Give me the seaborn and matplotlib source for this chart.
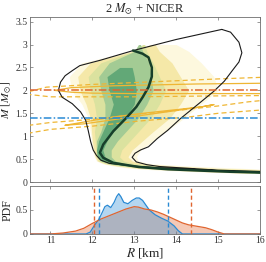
import numpy as np
import matplotlib
matplotlib.use("Agg")
import matplotlib.pyplot as plt
import seaborn as sns

# ---------------- data ----------------
# outer envelope of the M-R posterior (closed black curve)
env_R = [15.09, 14.0, 12.98, 12.2, 11.7, 11.52, 11.35, 11.24, 11.19, 11.28, 11.52, 11.72,
         11.84, 11.9, 11.96, 12.02, 12.1, 12.2, 12.4, 12.97, 13.6, 14.57, 15.3, 16.0, 16.5,
         16.5, 16.0, 15.0, 14.3, 13.6, 13.3, 13.05, 12.95, 13.02, 13.15, 13.34, 13.55, 13.8,
         14.11, 14.5, 14.9, 15.15, 15.34, 15.5, 15.57, 15.5, 15.3, 15.09]
env_M = [3.33, 3.11, 2.87, 2.66, 2.54, 2.43, 2.32, 2.18, 2.0, 1.85, 1.71, 1.53,
         1.35, 1.13, 0.88, 0.7, 0.58, 0.48, 0.41, 0.35, 0.31, 0.27, 0.235, 0.205, 0.19,
         0.22, 0.232, 0.26, 0.3, 0.34, 0.38, 0.44, 0.54, 0.63, 0.7, 0.77, 0.95, 1.13,
         1.39, 1.68, 1.98, 2.2, 2.43, 2.62, 2.82, 3.05, 3.27, 3.33]

# median M-R curve (thick dark green)
med_R = [12.97, 13.2, 13.34, 13.42, 13.42, 13.34, 13.2, 13.05, 12.8, 12.5, 12.26, 12.18,
         12.26, 12.5, 13.1, 13.8, 14.6, 15.3, 16.5]
med_M = [2.87, 2.8, 2.72, 2.5, 2.3, 2.07, 1.85, 1.64, 1.39, 1.11, 0.82, 0.64,
         0.53, 0.42, 0.33, 0.28, 0.25, 0.225, 0.2]

# density bands (left / right radius at each mass level), outer -> inner
band_M = [0.19, 0.22, 0.26, 0.30, 0.35, 0.40, 0.46, 0.55, 0.70, 0.90, 1.10, 1.40, 1.70, 2.00, 2.30, 2.60, 2.85, 3.00]
band1_L = [15.6, 14.6, 13.6, 12.9, 12.5, 12.25, 12.1, 12.05, 12.0, 11.98, 11.95, 11.9, 11.75, 11.5, 11.45, 11.75, 12.9, 13.5]
band1_R = [16.5, 16.5, 16.5, 15.6, 14.3, 13.4, 13.1, 13.05, 13.15, 13.45, 13.75, 14.2, 14.6, 15.0, 14.9, 14.6, 14.3, 14.0]
band2_L = [15.8, 14.9, 13.9, 13.1, 12.6, 12.3, 12.12, 12.07, 12.03, 12.0, 11.98, 11.95, 11.85, 11.7, 11.65, 11.95, 12.95, 13.4]
band2_R = [16.5, 16.5, 16.5, 15.0, 13.9, 13.2, 12.95, 12.85, 12.95, 13.2, 13.45, 13.85, 14.1, 14.3, 14.1, 13.9, 13.6, 13.5]
band3_L = [15.9, 15.2, 14.1, 13.3, 12.7, 12.35, 12.15, 12.1, 12.08, 12.07, 12.05, 12.1, 12.05, 11.95, 11.9, 12.2, 12.97, 13.2]
band3_R = [16.5, 16.5, 16.0, 14.5, 13.6, 13.0, 12.75, 12.65, 12.7, 12.9, 13.1, 13.4, 13.6, 13.75, 13.6, 13.45, 13.3, 13.25]
band4_L = [16.0, 15.4, 14.3, 13.4, 12.8, 12.4, 12.2, 12.12, 12.1, 12.1, 12.2, 12.3, 12.3, 12.2, 12.15, 12.4, 13.0, 13.1]
band4_R = [16.5, 16.5, 15.5, 14.2, 13.3, 12.8, 12.55, 12.45, 12.45, 12.6, 12.8, 13.1, 13.3, 13.45, 13.4, 13.35, 13.2, 13.15]
core_M = [0.19, 0.22, 0.26, 0.30, 0.35, 0.40, 0.46, 0.55, 0.70, 0.90, 1.10, 1.40, 1.70, 2.00, 2.30, 2.50]
core_L = [16.2, 15.7, 14.6, 13.6, 12.9, 12.45, 12.22, 12.12, 12.1, 12.15, 12.25, 12.4, 12.5, 12.4, 12.35, 12.65]
core_R = [16.5, 16.5, 15.4, 14.2, 13.2, 12.7, 12.42, 12.3, 12.25, 12.35, 12.5, 12.8, 13.0, 13.05, 13.0, 12.95]

# NICER contours (solid = inner, dashed = outer)
j0740_in_R = [11.1, 11.5, 12.5, 13.5, 14.5, 15.5, 16.5, 16.5, 15.0, 14.0, 13.0, 12.0, 11.5, 11.1]
j0740_in_M = [2.0, 2.06, 2.1, 2.12, 2.14, 2.15, 2.16, 1.93, 1.93, 1.93, 1.93, 1.94, 1.96, 2.0]
j0740_out_R = [10.3, 10.9, 12.0, 13.0, 14.0, 15.0, 16.5, 16.5, 15.0, 14.0, 13.0, 12.0, 11.0, 10.3]
j0740_out_M = [1.93, 2.07, 2.13, 2.17, 2.21, 2.25, 2.3, 1.89, 1.88, 1.87, 1.86, 1.86, 1.86, 1.93]
j0030_in_R = [11.35, 11.8, 12.5, 13.2, 14.0, 14.6, 14.9, 14.6, 14.0, 13.3, 12.5, 11.8, 11.35]
j0030_in_M = [1.24, 1.31, 1.42, 1.5, 1.58, 1.64, 1.69, 1.64, 1.56, 1.47, 1.36, 1.27, 1.24]
j0030_out_R = [10.3, 10.5, 11.0, 12.18, 13.0, 14.0, 15.0, 15.72, 16.5, 16.5, 16.0, 15.0, 14.3, 13.1, 12.0, 11.0, 10.5, 10.3]
j0030_out_M = [1.15, 1.24, 1.3, 1.38, 1.47, 1.56, 1.66, 1.75, 1.82, 1.6, 1.57, 1.5, 1.42, 1.33, 1.22, 1.15, 1.07, 1.15]

# reference masses
m_lines = [2.0, 1.4]

# radius PDFs at 1.4 and 2.0 solar masses
pdf14_R = [10.5, 11.85, 11.95, 12.05, 12.15, 12.22, 12.3, 12.36, 12.44, 12.52, 12.58, 12.63, 12.68,
           12.75, 12.85, 12.95, 13.05, 13.12, 13.2, 13.28, 13.36, 13.5, 13.65, 13.8, 13.95, 14.05,
           14.15, 16.0]
pdf14_P = [0, 0, 0.04, 0.18, 0.3, 0.42, 0.57, 0.6, 0.55, 0.66, 0.78, 0.84, 0.78,
           0.66, 0.63, 0.7, 0.75, 0.75, 0.7, 0.6, 0.5, 0.4, 0.33, 0.27, 0.17, 0.07,
           0.0, 0]
pdf20_R = [10.5, 11.0, 11.3, 11.6, 11.8, 12.0, 12.2, 12.4, 12.6, 12.8, 13.0, 13.1, 13.25, 13.4,
           13.55, 13.7, 13.85, 14.0, 14.15, 14.3, 14.5, 14.7, 14.85, 15.0, 15.15, 16.0]
pdf20_P = [0, 0, 0.02, 0.06, 0.12, 0.22, 0.31, 0.38, 0.45, 0.52, 0.57, 0.56, 0.52, 0.5,
           0.46, 0.41, 0.35, 0.29, 0.23, 0.19, 0.16, 0.13, 0.09, 0.04, 0.0, 0]
q14 = [12.15, 13.8]
q20 = [12.04, 14.35]

x_ticks = [11, 12, 13, 14, 15, 16]
m_ticks = [0, 0.5, 1, 1.5, 2, 2.5, 3, 3.5]
m_tick_labels = ["0", "0.5", "1", "1.5", "2", "2.5", "3", "3.5"]
p_ticks = [0, 0.5]
p_tick_labels = ["0", "0.5"]

# ---------------- styling ----------------
sns.set_theme(style="ticks")
plt.rcParams.update({
    "font.family": ["Liberation Serif", "DejaVu Serif"],
    "mathtext.fontset": "stix",
    "axes.edgecolor": "#6e6e6e",
    "axes.linewidth": 0.6,
    "xtick.color": "#6e6e6e",
    "ytick.color": "#6e6e6e",
    "xtick.labelcolor": "#333333",
    "ytick.labelcolor": "#333333",
})

BLUE = "#2a8ad4"
RED = "#e0652f"
ORANGE = "#efb634"

fig = plt.figure(figsize=(2.66, 2.62), dpi=100)
ax = fig.add_axes([0.111, 0.305, 0.866, 0.63])
ax2 = fig.add_axes([0.111, 0.107, 0.866, 0.183])

# density layers
layer_cols = ["#fdf8de", "#f5e8a8", "#dbe29f", "#a3cb94", "#62a877"]
for (L, R, Ms), c in zip([(band1_L, band1_R, band_M), (band2_L, band2_R, band_M),
                          (band3_L, band3_R, band_M), (band4_L, band4_R, band_M),
                          (core_L, core_R, core_M)], layer_cols):
    ax.fill_betweenx(Ms, L, R, color=c, lw=0, zorder=1)

# NICER contours
for Rs, Ms, ls in [(j0740_out_R, j0740_out_M, (0, (4, 2.5))), (j0740_in_R, j0740_in_M, "-"),
                   (j0030_out_R, j0030_out_M, (0, (4, 2.5))), (j0030_in_R, j0030_in_M, "-")]:
    sns.lineplot(x=Rs, y=Ms, sort=False, estimator=None, color=ORANGE, lw=0.9,
                 linestyle=ls, ax=ax, zorder=3)

# envelope and median
sns.lineplot(x=env_R, y=env_M, sort=False, estimator=None, color="#1a1a1a", lw=0.8, ax=ax, zorder=4)
sns.lineplot(x=med_R, y=med_M, sort=False, estimator=None, color="#173f2a", lw=1.8, ax=ax, zorder=4)

# reference mass lines
for m, c in zip(m_lines, [RED, BLUE]):
    ax.axhline(m, color=c, lw=1.1, ls=(0, (5, 1.5, 1, 1.5)), zorder=5)

ax.set_xlim(10.5, 16)
ax.set_ylim(0, 3.6)
ax.set_xticks(x_ticks)
ax.set_xticklabels([])
ax.set_yticks(m_ticks)
ax.set_yticklabels(m_tick_labels)
ax.set_xlabel("")
ax.set_ylabel(r"$M$ [$M_{\odot}$]", fontsize=8.5)
ax.yaxis.set_label_coords(-0.068, 0.5)
ax.set_title(r"2 $M_{\odot}$ + NICER", fontsize=9, pad=3)

# PDFs
ax2.fill_between(pdf20_R, pdf20_P, color=RED, alpha=0.35, lw=0, zorder=2)
ax2.fill_between(pdf14_R, pdf14_P, color=BLUE, alpha=0.35, lw=0, zorder=2)
sns.lineplot(x=pdf14_R, y=pdf14_P, color=BLUE, lw=0.9, ax=ax2, zorder=3)
sns.lineplot(x=pdf20_R, y=pdf20_P, color=RED, lw=0.9, ax=ax2, zorder=3)
for q in q14:
    ax2.axvline(q, color=BLUE, lw=1.0, ls=(0, (3, 2)), zorder=4)
for q in q20:
    ax2.axvline(q, color=RED, lw=1.0, ls=(0, (3, 2)), zorder=4)
ax2.set_xlim(10.5, 16)
ax2.set_ylim(0, 1.0)
ax2.set_xticks(x_ticks)
ax2.set_xticklabels([str(t) for t in x_ticks])
ax2.set_yticks(p_ticks)
ax2.set_yticklabels(p_tick_labels)
ax2.set_xlabel(r"$R$ [km]", fontsize=9.5, labelpad=1)
ax2.set_ylabel("PDF", fontsize=8.5)
ax2.yaxis.set_label_coords(-0.068, 0.5)

for a in (ax, ax2):
    a.tick_params(direction="in", top=True, right=True, length=2.5, width=0.5,
                  labelsize=7, pad=1.5)
    for s in a.spines.values():
        s.set_visible(True)

fig.savefig("out.png", dpi=100)
